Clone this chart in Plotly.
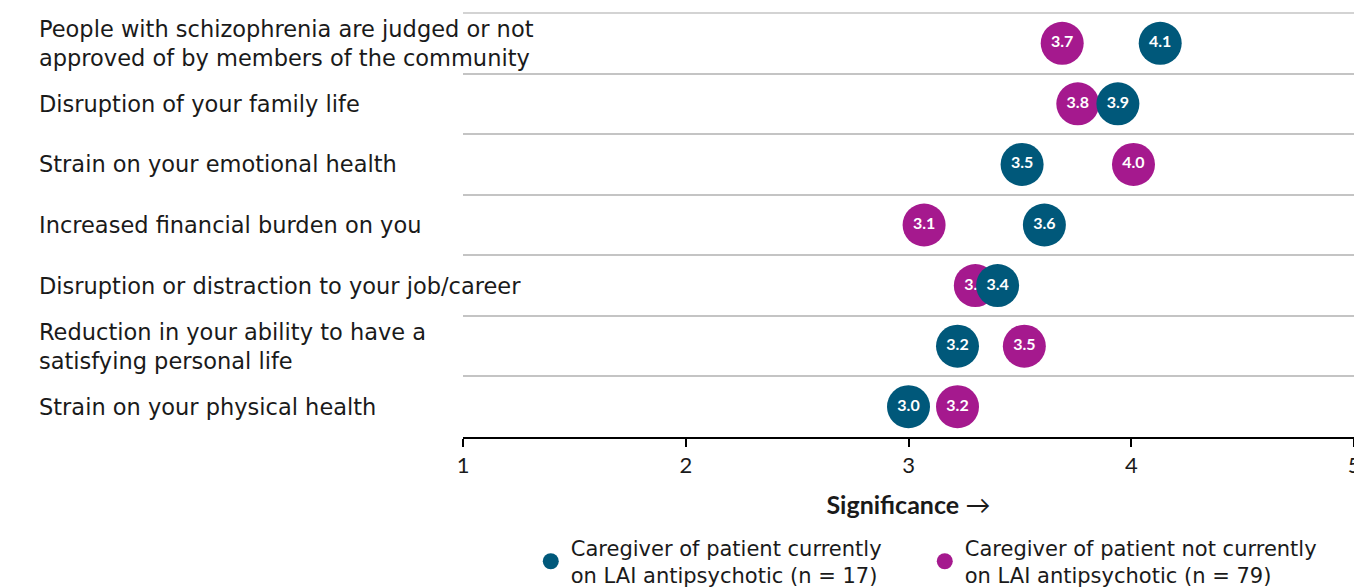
import plotly.graph_objects as go

categories = [
    "People with schizophrenia are judged or not<br>approved of by members of the community",
    "Disruption of your family life",
    "Strain on your emotional health",
    "Increased financial burden on you",
    "Disruption or distraction to your job/career",
    "Reduction in your ability to have a<br>satisfying personal life",
    "Strain on your physical health",
]
on_lai = [4.13, 3.94, 3.51, 3.61, 3.40, 3.22, 3.00]
not_on_lai = [3.69, 3.76, 4.01, 3.07, 3.30, 3.52, 3.22]
series_names = [
    "Caregiver of patient currently<br>on LAI antipsychotic (n = 17)",
    "Caregiver of patient not currently<br>on LAI antipsychotic (n = 79)",
]
x_ticks = [1, 2, 3, 4, 5]

TEAL = "#00587A"
MAGENTA = "#A5198E"
GRID = "#c4c4c4"
LABEL_FONT = "DejaVu Sans"
NUM_FONT = "Lato"

fig = go.Figure()
fig.add_trace(go.Scatter(
    x=not_on_lai, y=categories, mode="markers+text", name=series_names[1],
    marker=dict(size=43, color=MAGENTA, line=dict(width=0)),
    text=[f"{v:.1f}" for v in not_on_lai], textposition="middle center",
    textfont=dict(color="white", size=16, family="Lato", weight="bold"),
    legendrank=2, cliponaxis=False,
))
fig.add_trace(go.Scatter(
    x=on_lai, y=categories, mode="markers+text", name=series_names[0],
    marker=dict(size=43, color=TEAL, line=dict(width=0)),
    text=[f"{v:.1f}" for v in on_lai], textposition="middle center",
    textfont=dict(color="white", size=16, family="Lato", weight="bold"),
    legendrank=1, cliponaxis=False,
))

for c in categories:
    fig.add_annotation(
        x=0, xref="paper", y=c, yref="y", xanchor="left", xshift=-426,
        text=c, showarrow=False, align="left",
        font=dict(family=LABEL_FONT, size=22.5, color="#1a1a1a"),
    )

# top border line of the first row band
fig.add_shape(type="line", xref="paper", yref="paper", x0=0, x1=1, y0=1, y1=1,
              line=dict(color=GRID, width=1.5), layer="below")

fig.update_layout(
    width=1354, height=588,
    margin=dict(l=463, r=0, t=13, b=151),
    plot_bgcolor="white", paper_bgcolor="white",
    showlegend=True,
    legend=dict(
        orientation="h", xref="container", x=0.392, xanchor="left",
        yref="container", y=0.103, yanchor="top",
        font=dict(family=LABEL_FONT, size=21, color="#1a1a1a"),
        itemsizing="trace", itemwidth=30, traceorder="normal",
        entrywidth=349,
    ),
    xaxis=dict(
        range=[1, 5], tickvals=x_ticks, ticktext=[str(t) for t in x_ticks],
        showgrid=False, zeroline=False, automargin=False,
        showline=True, linecolor="black", linewidth=2,
        ticks="outside", ticklen=8, tickcolor="black", tickwidth=1.5,
        ticklabeloverflow="allow",
        tickfont=dict(family=NUM_FONT, size=22, color="#1a1a1a"),
        title=dict(text="<b>Significance</b> →", standoff=19,
                   font=dict(family=NUM_FONT, size=25, color="#1a1a1a")),
        fixedrange=True,
    ),
    yaxis=dict(
        type="category", categoryorder="array", categoryarray=categories[::-1],
        tickson="boundaries", showgrid=True, gridcolor=GRID, gridwidth=1.5,
        showticklabels=False, ticks="", showline=False, zeroline=False,
        range=[-0.5, 6.5], automargin=False, fixedrange=True,
    ),
)

fig.write_html("out.html", config={"displayModeBar": False},
               post_script="document.body.style.margin='0px';")
